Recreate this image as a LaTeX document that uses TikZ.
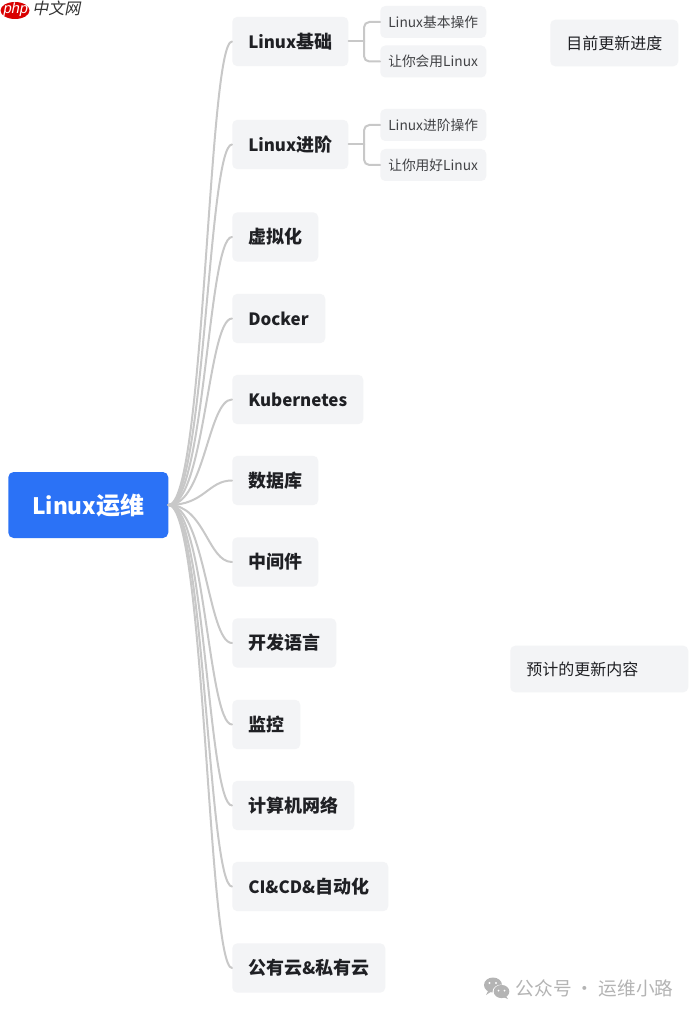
\documentclass[tikz,border=0pt]{standalone}
\usepackage{fontspec}
\setmainfont{Noto Sans CJK SC}
\newfontfamily\logofont[FakeSlant=0.2]{Noto Sans CJK SC}
\newfontfamily\phpfont[FakeSlant=0.2]{Liberation Sans}
\definecolor{boxbg}{HTML}{F3F4F6}
\definecolor{rootbg}{HTML}{2B72F6}
\definecolor{linkc}{HTML}{C8C8C8}
\definecolor{ink}{HTML}{1F2024}
\definecolor{markc}{HTML}{B4B4B4}
\newcommand{\lat}[1]{{\fontsize{12.7pt}{16pt}\selectfont #1}}
\tikzset{
  box/.style={fill=boxbg,rounded corners=3.75pt,inner sep=0pt,minimum height=37pt,anchor=west,text=ink,align=left},
  wide/.style={minimum width=#1,text width=#1-24pt},
  topic/.style={box,font=\fontsize{13.5pt}{16pt}\selectfont\bfseries},
  leaf/.style={box,minimum height=24pt,minimum width=79.5pt,text width=67.5pt,font=\fontsize{10.3pt}{12pt}\selectfont,text=ink!85},
  note/.style={box,font=\fontsize{12pt}{14pt}\selectfont,minimum height=35pt},
  rootbox/.style={fill=rootbg,rounded corners=4pt,inner sep=0pt,text=white,anchor=west,minimum width=120pt,minimum height=49.5pt,font=\fontsize{18pt}{20pt}\selectfont\bfseries},
  link/.style={draw=linkc,line width=1.5pt,line cap=round},
}
\newcommand{\curvelink}[1]{\draw[link] (root.east) .. controls ([xshift=27pt]root.east) and ([xshift=-18pt]#1.west) .. (#1.west);}
\begin{document}
\begin{tikzpicture}[x=0.75pt,y=-0.75pt]
\useasboundingbox[fill=white] (0,0) rectangle (695,1016);
% logo
\fill[red!85!black] (15,10.5) ellipse (14.5 and 8.5);
\node[text=white,inner sep=0pt,font=\fontsize{11pt}{12pt}\selectfont\phpfont] (php) at (15,9.5) {php};
\node[text=black!80,inner sep=0pt,anchor=west,font=\fontsize{12pt}{14pt}\selectfont\logofont] (cn) at (32,8.5) {中文网};
% nodes
\node[rootbox] (root) at (8,505) {{\fontsize{17pt}{20pt}\selectfont Linux}运维};
\node[topic,wide=87pt] (t1) at (232,41.5) {\lat{Linux}基础};
\node[topic,wide=87pt] (t2) at (232,144.5) {\lat{Linux}进阶};
\node[topic,wide=64.5pt] (t3) at (232,237) {虚拟化};
\node[topic,wide=69.75pt] (t4) at (232,318.5) {\lat{Docker}};
\node[topic,wide=98.25pt] (t5) at (232,399.5) {\lat{Kubernetes}};
\node[topic,wide=64.5pt] (t6) at (232,480.5) {数据库};
\node[topic,wide=64.5pt] (t7) at (232,562) {中间件};
\node[topic,wide=78pt] (t8) at (232,643) {开发语言};
\node[topic,wide=51pt] (t9) at (232,724.5) {监控};
\node[topic,wide=91.5pt] (t10) at (232,805.5) {计算机网络};
\node[topic,wide=117pt] (t11) at (232,886.5) {\lat{CI\&CD\&}自动化};
\node[topic,wide=114.75pt] (t12) at (232,968) {公有云\lat{\&}私有云};
\node[leaf] (s1) at (380,22) {Linux基本操作};
\node[leaf] (s2) at (380,61.5) {让你会用Linux};
\node[leaf] (s3) at (380,125) {Linux进阶操作};
\node[leaf] (s4) at (380,165) {让你用好Linux};
\node[note,wide=96pt] (n1) at (550,43) {目前更新进度};
\node[note,wide=133.5pt] (n2) at (510,669) {预计的更新内容};
% links
\foreach \t in {t1,t2,t3,t4,t5,t6,t7,t8,t9,t10,t11,t12}{\curvelink{\t}}
\coordinate (j1) at (364,41.5);
\coordinate (j2) at (364,144.5);
\draw[link] (t1.east) -- (j1);
\draw[link,rounded corners=4pt] (s1.west) -| (j1);
\draw[link,rounded corners=4pt] (s2.west) -| (j1);
\draw[link] (t2.east) -- (j2);
\draw[link,rounded corners=4pt] (s3.west) -| (j2);
\draw[link,rounded corners=4pt] (s4.west) -| (j2);
% watermark
\fill[markc] (493,985) ellipse (9 and 7.5);
\fill[markc] (492,991) -- (486,995) -- (489,989) -- cycle;
\fill[white] (501.5,992) ellipse (9 and 7.5);
\fill[markc] (501.5,991.5) ellipse (7.8 and 6.6);
\fill[markc] (506,996) -- (508,999) -- (503,997) -- cycle;
\foreach \p in {(489.5,983),(496,983)}{\fill[white] \p circle (1.1);}
\foreach \p in {(498.5,990.5),(504.5,990.5)}{\fill[white] \p circle (1);}
\node[text=markc,inner sep=0pt,anchor=west,font=\fontsize{14pt}{16pt}\selectfont] (wm) at (515.5,988) {公众号 · 运维小路};
\end{tikzpicture}
\end{document}
